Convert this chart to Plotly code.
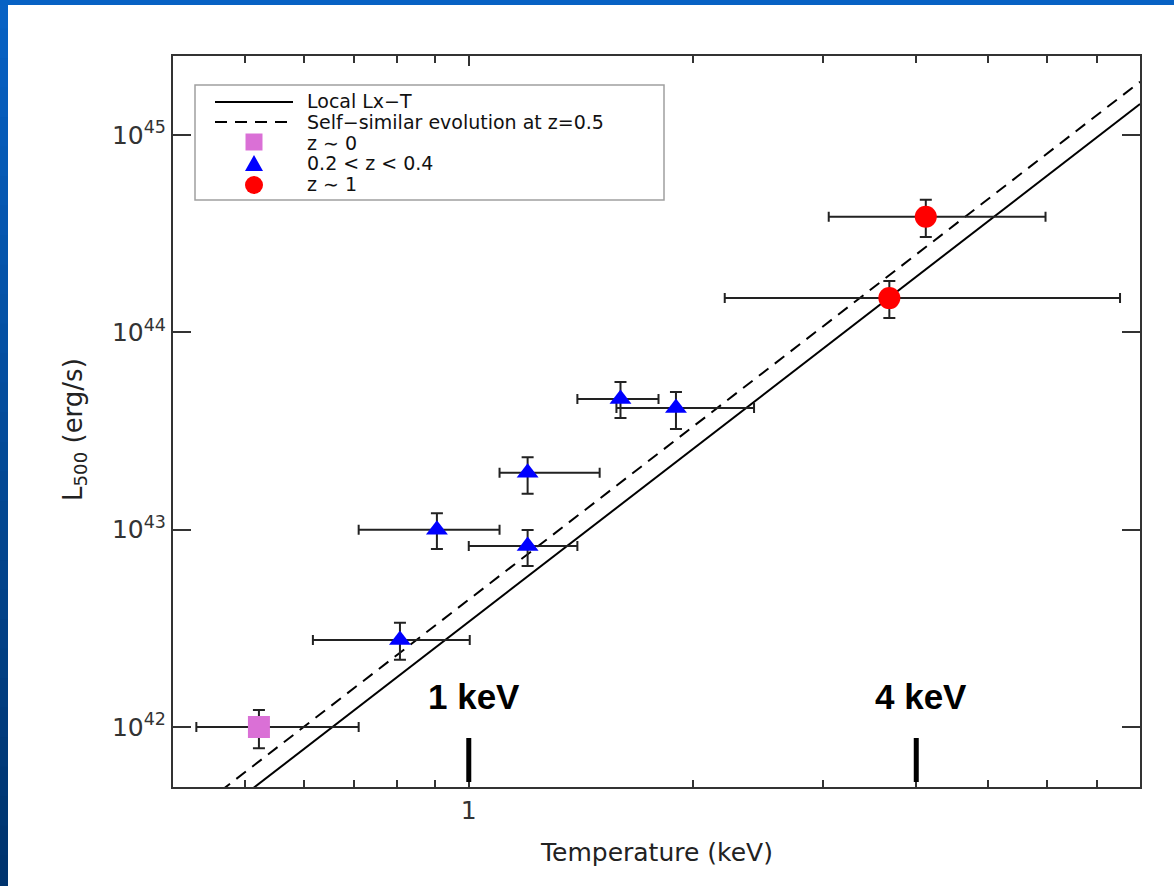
import math
import plotly.graph_objects as go

# ---------------- data ----------------
# z ~ 0
T_z0 = [0.522]
T_z0_lo = [0.430]
T_z0_hi = [0.711]
L_z0 = [1.00e42]
L_z0_lo = [0.78e42]
L_z0_hi = [1.22e42]

# 0.2 < z < 0.4
T_mid = [0.808, 0.906, 1.20, 1.20, 1.60, 1.90]
T_mid_lo = [0.617, 0.711, 1.00, 1.10, 1.40, 1.58]
T_mid_hi = [1.003, 1.10, 1.40, 1.50, 1.80, 2.42]
L_mid = [2.76e42, 1.00e43, 8.26e42, 1.94e43, 4.59e43, 4.14e43]
L_mid_lo = [2.19e42, 7.98e42, 6.55e42, 1.52e43, 3.68e43, 3.24e43]
L_mid_hi = [3.37e42, 1.21e43, 9.96e42, 2.33e43, 5.60e43, 4.99e43]

# z ~ 1
T_z1 = [4.12, 3.68]
T_z1_lo = [3.05, 2.21]
T_z1_hi = [5.97, 7.52]
L_z1 = [3.85e44, 1.49e44]
L_z1_lo = [3.04e44, 1.18e44]
L_z1_hi = [4.69e44, 1.82e44]

# L-T relations: L = NORM * T**SLOPE
LOCAL_NORM, LOCAL_SLOPE = 3.41e42, 2.905
SS_NORM, SS_SLOPE = 4.42e42, 2.905

X_RANGE = [0.4, 8.0]
Y_RANGE_LOG = [41.696, 45.400]

x_tickvals = [1]
x_ticktext = ["1"]
x_minor_tickvals = [0.5, 0.6, 0.7, 0.8, 0.9, 2, 3, 4, 5, 6, 7]
y_tickvals = [1e42, 1e43, 1e44, 1e45]
y_ticktext = ["10<sup>42</sup>", "10<sup>43</sup>", "10<sup>44</sup>", "10<sup>45</sup>"]

marker_keV = [1, 4]
marker_keV_text = ["1 keV", "4 keV"]

legend_labels = ["Local Lx\u2212T", "Self\u2212similar evolution at z=0.5",
                 "z \u223c 0", "0.2 &lt; z &lt; 0.4", "z \u223c 1"]

# ---------------- layout geometry ----------------
W, H = 1174, 886
L_M, R_M, T_M, B_M = 173, 34, 56, 99
PW, PH = W - L_M - R_M, H - T_M - B_M


def px(x):
    return (x - L_M) / PW


def py(y):
    return (H - B_M - y) / PH


def xdata_to_paper(v):
    lo, hi = math.log10(X_RANGE[0]), math.log10(X_RANGE[1])
    return (math.log10(v) - lo) / (hi - lo)


def errs(v, lo, hi):
    return [h - c for c, h in zip(v, hi)], [c - l for c, l in zip(v, lo)]


FONT = "DejaVu Sans"
ERR_COLOR = "#222222"

fig = go.Figure()

# relations
for norm, slope, dash in [(LOCAL_NORM, LOCAL_SLOPE, "solid"), (SS_NORM, SS_SLOPE, "12px,8px")]:
    fig.add_trace(go.Scatter(
        x=X_RANGE, y=[norm * t ** slope for t in X_RANGE], mode="lines",
        line=dict(color="black", width=2, dash=dash), showlegend=False,
        hoverinfo="skip"))


def add_points(T, Tlo, Thi, L, Llo, Lhi, symbol, color, size):
    xp, xm = errs(T, Tlo, Thi)
    yp, ym = errs(L, Llo, Lhi)
    fig.add_trace(go.Scatter(
        x=T, y=L, mode="markers",
        marker=dict(symbol=symbol, color=color, size=size, line=dict(width=0)),
        error_x=dict(type="data", symmetric=False, array=xp, arrayminus=xm,
                     color=ERR_COLOR, thickness=2, width=5),
        error_y=dict(type="data", symmetric=False, array=yp, arrayminus=ym,
                     color=ERR_COLOR, thickness=2, width=6),
        showlegend=False))


add_points(T_z0, T_z0_lo, T_z0_hi, L_z0, L_z0_lo, L_z0_hi, "square", "#da70d6", 22)
add_points(T_mid, T_mid_lo, T_mid_hi, L_mid, L_mid_lo, L_mid_hi, "triangle-up", "#0000ff", 19)
add_points(T_z1, T_z1_lo, T_z1_hi, L_z1, L_z1_lo, L_z1_hi, "circle", "#ff0000", 22)

shapes = []
annotations = []

# slide background strips
n_seg = 30
for i in range(n_seg):
    f = i / (n_seg - 1)
    r = int(8 + (0 - 8) * f)
    g = int(98 + (52 - 98) * f)
    b = int(196 + (110 - 196) * f)
    shapes.append(dict(type="rect", xref="paper", yref="paper", x0=px(-1), x1=px(8),
                       y0=py(H * i / n_seg - 1), y1=py(H * (i + 1) / n_seg + 1),
                       fillcolor=f"rgb({r},{g},{b})", line=dict(width=0)))
shapes.append(dict(type="rect", xref="paper", yref="paper", x0=px(-1), x1=px(W + 1),
                   y0=py(-1), y1=py(5), fillcolor="#0762c4", line=dict(width=0)))

# legend box
shapes.append(dict(type="rect", xref="paper", yref="paper", x0=px(195), x1=px(664),
                   y0=py(200), y1=py(85), fillcolor="white",
                   line=dict(color="#a0a0a0", width=1.5)))
shapes.append(dict(type="line", xref="paper", yref="paper", x0=px(215), x1=px(293),
                   y0=py(102), y1=py(102), line=dict(color="black", width=2)))
shapes.append(dict(type="line", xref="paper", yref="paper", x0=px(215), x1=px(295),
                   y0=py(122), y1=py(122), line=dict(color="black", width=2, dash="12px,8px")))
shapes.append(dict(type="rect", xref="paper", yref="paper", x0=px(245.5), x1=px(262.5),
                   y0=py(150.5), y1=py(133.5), fillcolor="#da70d6", line=dict(width=0)))
shapes.append(dict(type="path", xref="paper", yref="paper",
                   path=f"M {px(245)} {py(171)} L {px(263)} {py(171)} L {px(254)} {py(155)} Z",
                   fillcolor="#0000ff", line=dict(width=0)))
shapes.append(dict(type="circle", xref="paper", yref="paper", x0=px(245), x1=px(263),
                   y0=py(194), y1=py(176), fillcolor="#ff0000", line=dict(width=0)))

for lab, yc in zip(legend_labels, [101, 122, 143, 163, 184]):
    annotations.append(dict(text=lab, xref="paper", yref="paper", x=px(305), y=py(yc),
                            xanchor="left", yanchor="middle", showarrow=False,
                            font=dict(family=FONT, size=19, color="#111")))

# keV markers
for v, txt in zip(marker_keV, marker_keV_text):
    xp_ = xdata_to_paper(v)
    shapes.append(dict(type="line", xref="paper", yref="paper", x0=xp_, x1=xp_,
                       y0=py(782), y1=py(738), line=dict(color="black", width=5)))
    annotations.append(dict(text=f"<b>{txt}</b>", xref="paper", yref="paper",
                            x=xp_ + 5 / PW, y=py(696), xanchor="center", yanchor="middle",
                            showarrow=False,
                            font=dict(family="Liberation Sans", size=35, color="black")))

# axis titles
annotations.append(dict(text="Temperature (keV)", xref="paper", yref="paper",
                        x=0.5, y=py(852), xanchor="center", yanchor="middle",
                        showarrow=False, font=dict(family=FONT, size=25, color="#222")))
annotations.append(dict(text="L<sub>500</sub> (erg/s)", xref="paper", yref="paper",
                        x=px(74), y=py(430), xanchor="center", yanchor="middle",
                        textangle=-90, showarrow=False,
                        font=dict(family=FONT, size=26, color="#222")))

fig.update_layout(
    width=W, height=H, autosize=False,
    margin=dict(l=L_M, r=R_M, t=T_M, b=B_M, pad=0),
    paper_bgcolor="white", plot_bgcolor="white",
    showlegend=False,
    shapes=shapes, annotations=annotations,
    xaxis=dict(type="log", range=[math.log10(X_RANGE[0]), math.log10(X_RANGE[1])],
               tickmode="array", tickvals=x_tickvals, ticktext=x_ticktext,
               ticks="inside", ticklen=10, tickwidth=1.5, tickcolor="#333",
               minor=dict(tickmode="array", tickvals=x_minor_tickvals, ticks="inside",
                          ticklen=7, tickwidth=1.5, tickcolor="#333", showgrid=False),
               showline=True, linecolor="#333", linewidth=2, mirror="ticks",
               showgrid=False, zeroline=False,
               tickfont=dict(family=FONT, size=25, color="#333")),
    yaxis=dict(type="log", range=Y_RANGE_LOG,
               tickmode="array", tickvals=y_tickvals, ticktext=y_ticktext,
               ticks="inside", ticklen=18, tickwidth=1.5, tickcolor="#333",
               showline=True, linecolor="#333", linewidth=2, mirror="ticks",
               showgrid=False, zeroline=False,
               tickfont=dict(family=FONT, size=25, color="#333")),
)

fig.write_html("out.html")
